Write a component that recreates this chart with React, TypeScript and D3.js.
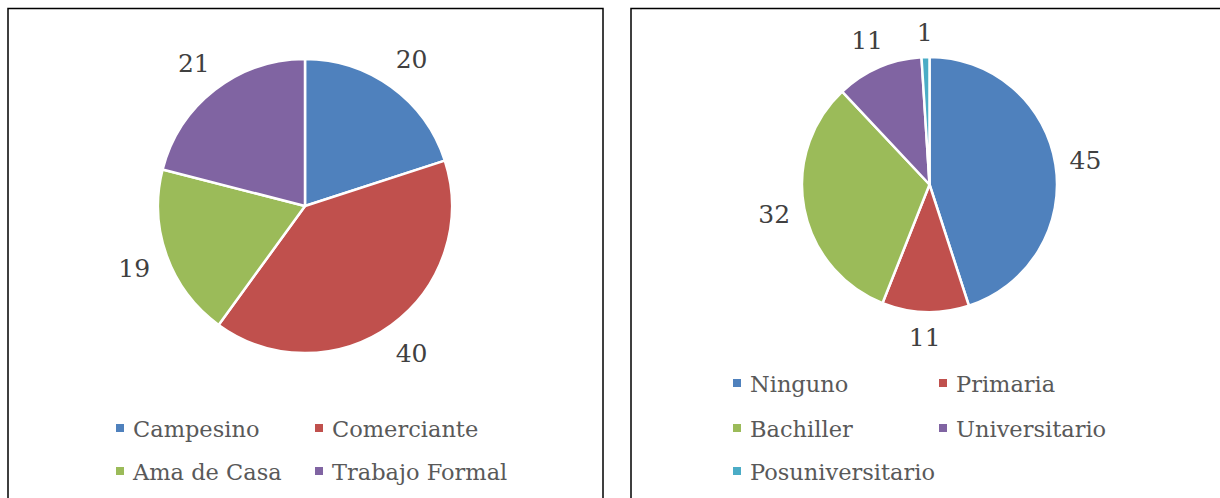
import React from "react";
import * as d3 from "d3";

const occCategories = ["Campesino", "Comerciante", "Ama de Casa", "Trabajo Formal"];
const occValues = [20, 40, 19, 21];
const eduCategories = ["Ninguno", "Primaria", "Bachiller", "Universitario", "Posuniversitario"];
const eduValues = [45, 11, 32, 11, 1];
const palette = ["#4F81BD", "#C0504D", "#9BBB59", "#8064A2", "#4BACC6"];

const FONT = '"DejaVu Serif", serif';
const FS = 22.5;
const LFS = 25;

type PieProps = {
  cats: string[];
  vals: number[];
  cx: number;
  cy: number;
  r: number;
  gap: number;
};

function Pie({ cats, vals, cx, cy, r, gap }: PieProps) {
  const data = cats.map((c, i) => ({ c, v: vals[i], i }));
  const pie = d3.pie<any>().value((d) => d.v).sort(null);
  const arcs = pie(data);
  const arc = d3.arc<any>().innerRadius(0).outerRadius(r);
  return (
    <g transform={`translate(${cx},${cy})`}>
      {arcs.map((a) => (
        <path key={a.data.c} d={arc(a) || ""} fill={palette[a.data.i]} stroke="#fff" strokeWidth={2.5} strokeLinejoin="round" />
      ))}
      {arcs.map((a) => {
        const m = (a.startAngle + a.endAngle) / 2;
        const s = Math.sin(m);
        const c = -Math.cos(m);
        const txt = String(a.data.v);
        const hw = txt.length * 7;
        const hh = 10;
        const dist = r + gap + hw * Math.abs(s) + hh * Math.abs(c);
        return (
          <text key={"l" + a.data.c} x={s * dist} y={c * dist} dy="0.36em" textAnchor="middle"
            style={{ fontFamily: FONT, fontSize: LFS }} fill="#404040">{txt}</text>
        );
      })}
    </g>
  );
}

type LegendProps = { cats: string[]; cols: number[]; rows: number[] };

function Legend({ cats, cols, rows }: LegendProps) {
  return (
    <g>
      {cats.map((c, i) => {
        const x = cols[i % 2];
        const y = rows[Math.floor(i / 2)];
        return (
          <g key={c}>
            <rect x={x} y={y - 13} width={8} height={8} fill={palette[i]} />
            <text x={x + 17} y={y} style={{ fontFamily: FONT, fontSize: FS }} fill="#595959">{c}</text>
          </g>
        );
      })}
    </g>
  );
}

export default function App() {
  return (
    <svg width={1220} height={498} style={{ position: "absolute", left: 0, top: 0, display: "block", background: "#fff" }}>
      <rect x={8} y={8.5} width={595} height={520} fill="#fff" stroke="#000" strokeWidth={1.5} />
      <rect x={631} y={8.5} width={620} height={520} fill="#fff" stroke="#000" strokeWidth={1.5} />
      <Pie cats={occCategories} vals={occValues} cx={305} cy={206} r={147} gap={18} />
      <Legend cats={occCategories} cols={[116, 315]} rows={[437, 480]} />
      <Pie cats={eduCategories} vals={eduValues} cx={929.5} cy={184.5} r={127.5} gap={15} />
      <Legend cats={eduCategories} cols={[733, 939]} rows={[392, 437, 480]} />
    </svg>
  );
}
